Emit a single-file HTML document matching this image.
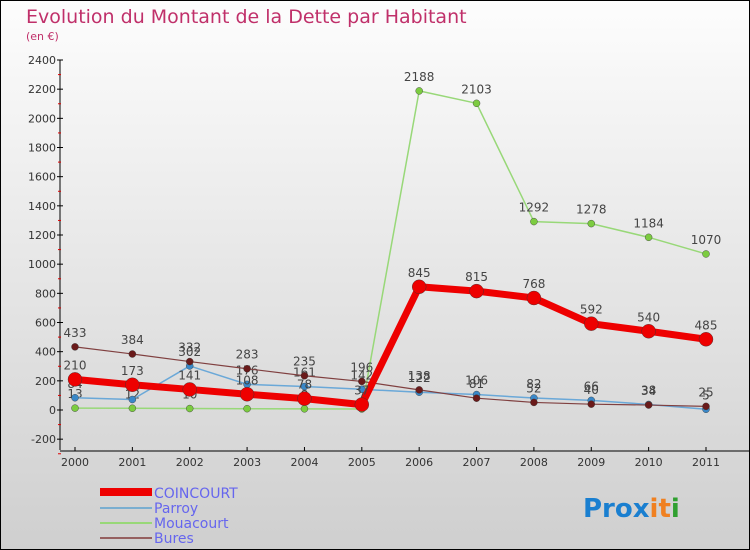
<!DOCTYPE html>
<html><head><meta charset="utf-8"><style>
body{margin:0;}
#wrap{width:750px;height:550px;position:relative;overflow:hidden;font-family:"DejaVu Sans","Liberation Sans",sans-serif;}
svg text{font-family:"DejaVu Sans","Liberation Sans",sans-serif;}
</style></head><body>
<div id="wrap">
<svg id="svg" width="750" height="550" xmlns="http://www.w3.org/2000/svg">
<defs><linearGradient id="bg" x1="0" y1="0" x2="0" y2="1"><stop offset="0" stop-color="#fdfdfd"/><stop offset="1" stop-color="#cfcfcf"/></linearGradient></defs>
<rect x="0.5" y="0.5" width="749" height="549" fill="url(#bg)" stroke="#000"/>
<text x="26" y="23" font-size="19" fill="#c0306a">Evolution du Montant de la Dette par Habitant</text>
<text x="26" y="40" font-size="11" fill="#c0306a">(en €)</text>
<g id="axes"></g><g id="series"></g>
<g>
<rect x="100" y="488" width="52" height="8" fill="#e00"/>
<text x="154" y="498" font-size="14" fill="#6666ee">COINCOURT</text>
<line x1="100" y1="508" x2="152" y2="508" stroke="#7aaed0" stroke-width="2"/>
<text x="154" y="513" font-size="14" fill="#6666ee">Parroy</text>
<line x1="100" y1="523" x2="152" y2="523" stroke="#98d878" stroke-width="2"/>
<text x="154" y="528" font-size="14" fill="#6666ee">Mouacourt</text>
<line x1="100" y1="538" x2="152" y2="538" stroke="#956060" stroke-width="2"/>
<text x="154" y="543" font-size="14" fill="#6666ee">Bures</text>
</g>
<g font-size="26" font-weight="bold">
<text x="583" y="517"><tspan fill="#1a7fd0">Pro</tspan><tspan fill="#1a7fd0">x</tspan><tspan fill="#f08020">i</tspan><tspan fill="#f08020">t</tspan><tspan fill="#30a030">i</tspan></text>
</g>
</svg></div>
<script>
const years=["2000","2001","2002","2003","2004","2005","2006","2007","2008","2009","2010","2011"];
const yTicks=[-200,0,200,400,600,800,1000,1200,1400,1600,1800,2000,2200,2400];
const coincourt=[210,173,141,108,78,37,845,815,768,592,540,485];
const parroy=[84,72,302,176,161,142,122,106,82,66,38,5];
const mouacourt=[13,12,10,9,8,7,2188,2103,1292,1278,1184,1070];
const bures=[433,384,332,283,235,196,138,81,52,40,34,25];
const NS="http://www.w3.org/2000/svg";
function X(i){return 75+i*(706-75)/11;}
function Y(v){return 410-v*350/2400;}
function mk(t,a,p){const e=document.createElementNS(NS,t);for(const k in a)e.setAttribute(k,a[k]);p.appendChild(e);return e;}
const ax=document.getElementById('axes'),sg=document.getElementById('series');
let yl=mk('line',{x1:60,y1:60,x2:60,y2:450,stroke:'#000'},ax);


let xl=mk('line',{x1:60,y1:451,x2:750,y2:451,stroke:'#000'},ax);


yTicks.forEach(v=>{const y=Y(v);
 mk('line',{x1:57,y1:y,x2:63,y2:y,stroke:'#000'},ax);
 mk('line',{x1:58,y1:y+14.6,x2:61,y2:y+14.6,stroke:'#d00'},ax);
 const t=mk('text',{x:56,y:y+4,'font-size':11,'text-anchor':'end',fill:'#333'},ax);t.textContent=v;
 
 });
years.forEach((yr,i)=>{const x=X(i);mk('line',{x1:x,y1:447,x2:x,y2:451,stroke:'#000'},ax);
 const t=mk('text',{x:x,y:466,'font-size':11,'text-anchor':'middle',fill:'#333'},ax);t.textContent=yr;
 
 });
function draw(arr,name,col,w,r,dot){
 const g=mk('g',{},sg);
 
 
 mk('polyline',{points:arr.map((v,i)=>X(i)+','+Y(v)).join(' '),fill:'none',stroke:col,'stroke-width':w,'stroke-linejoin':'round'},g);
 arr.forEach((v,i)=>{const c=mk('circle',{cx:X(i),cy:Y(v),r:r,fill:dot,stroke:'#333','stroke-width':0.4},g);
  
  
  const t=mk('text',{x:X(i),y:Y(v)-10,'font-size':12,'text-anchor':'middle',fill:'#444'},g);t.textContent=v;});
}
draw(mouacourt,'mouacourt','#98d878',1.5,3.5,'#7ccc40');
draw(parroy,'parroy','#6aa8d8',1.5,3.5,'#3a88c8');
draw(bures,'bures','#804040',1.2,3.5,'#6a1a1a');
draw(coincourt,'coincourt','#ee0000',7,7,'#ee0000');
</script>
</body></html>
